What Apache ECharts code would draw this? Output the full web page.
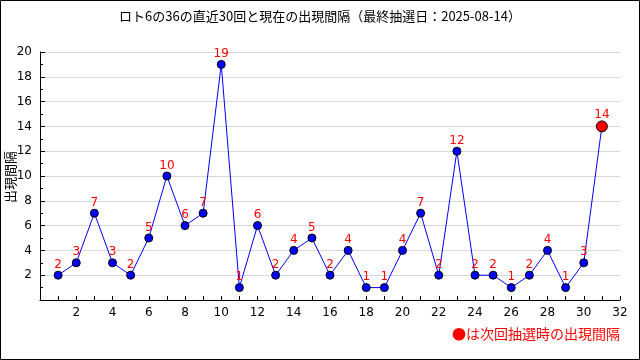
<!DOCTYPE html>
<html>
<head>
<meta charset="utf-8">
<script src="https://cdn.jsdelivr.net/npm/echarts@6/dist/echarts.min.js"></script>
<style>
html,body{margin:0;padding:0;background:#fff;}
#c{width:640px;height:360px;}
</style>
</head>
<body>
<div id="c"></div>
<script>
const titleText = 'ロト6の36の直近30回と現在の出現間隔（最終抽選日：2025-08-14）';
const yAxisName = '出現間隔';
const noteText = '●は次回抽選時の出現間隔';
const draws = [1,2,3,4,5,6,7,8,9,10,11,12,13,14,15,16,17,18,19,20,21,22,23,24,25,26,27,28,29,30,31];
const intervals = [2,3,7,3,2,5,10,6,7,19,1,6,2,4,5,2,4,1,1,4,7,2,12,2,2,1,2,4,1,3,14];
const currentDraw = 31;

const cjk = '"Noto Sans CJK JP", sans-serif';
const num = '"DejaVu Sans", sans-serif';

const data = draws.map((d, i) => {
  const p = { value: [d, intervals[i]] };
  if (d === currentDraw) {
    p.symbolSize = 11;
    p.itemStyle = { color: '#ff0000', borderColor: '#000', borderWidth: 1 };
  }
  return p;
});

const chart = echarts.init(document.getElementById('c'), null, { renderer: 'canvas' });
chart.setOption({
  animation: false,
  backgroundColor: '#fff',
  title: {
    text: titleText, left: 'center', top: 5,
    textStyle: { fontFamily: cjk, fontSize: 13, fontWeight: 'normal', color: '#000' }
  },
  grid: { left: 40, right: 20, top: 52, bottom: 60, containLabel: false, outerBoundsMode: 'none' },
  xAxis: {
    type: 'value', min: 0, max: 32, interval: 2,
    axisLine: { show: true, lineStyle: { color: '#000', width: 1 } },
    axisTick: { show: true, inside: true, length: 4, lineStyle: { color: '#000' } },
    minorTick: { show: true, splitNumber: 2, length: 4, lineStyle: { color: '#000' } },
    splitLine: { show: false },
    axisLabel: { margin: 7, color: '#000', fontFamily: num, fontSize: 12,
      formatter: v => v === 0 ? '' : String(v) }
  },
  yAxis: {
    type: 'value', min: 0, max: 20, interval: 2,
    axisLine: { show: true, lineStyle: { color: '#000', width: 1 } },
    axisTick: { show: true, inside: true, length: 5, lineStyle: { color: '#000' } },
    minorTick: { show: true, splitNumber: 2, length: 3, lineStyle: { color: '#000' } },
    splitLine: { show: true, lineStyle: { color: '#d8d8d8', width: 1 } },
    axisLabel: { margin: 8, color: '#000', fontFamily: num, fontSize: 12,
      formatter: v => v === 0 ? '' : String(v) }
  },
  series: [{
    type: 'line',
    data: data,
    symbol: 'circle',
    symbolSize: 8,
    lineStyle: { color: '#0000ff', width: 1 },
    itemStyle: { color: '#0000ff', borderColor: '#000', borderWidth: 1 },
    label: {
      show: true, position: 'top', distance: 0, color: '#ff0000',
      fontFamily: num, fontSize: 12,
      formatter: p => String(p.value[1])
    }
  }],
  graphic: [
    { type: 'rect', silent: true, z: 100,
      shape: { x: 0.5, y: 0.5, width: 639, height: 359 },
      style: { fill: 'none', stroke: '#000', lineWidth: 1 } },
    { type: 'text', x: 10, y: 177, rotation: Math.PI / 2, silent: true,
      style: { text: yAxisName, fill: '#000', font: '13px ' + cjk,
        align: 'center', verticalAlign: 'middle' } },
    { type: 'text', right: 20, top: 327, silent: true,
      style: { text: noteText, fill: '#ff0000', font: '14px ' + cjk } }
  ]
});
</script>
</body>
</html>
